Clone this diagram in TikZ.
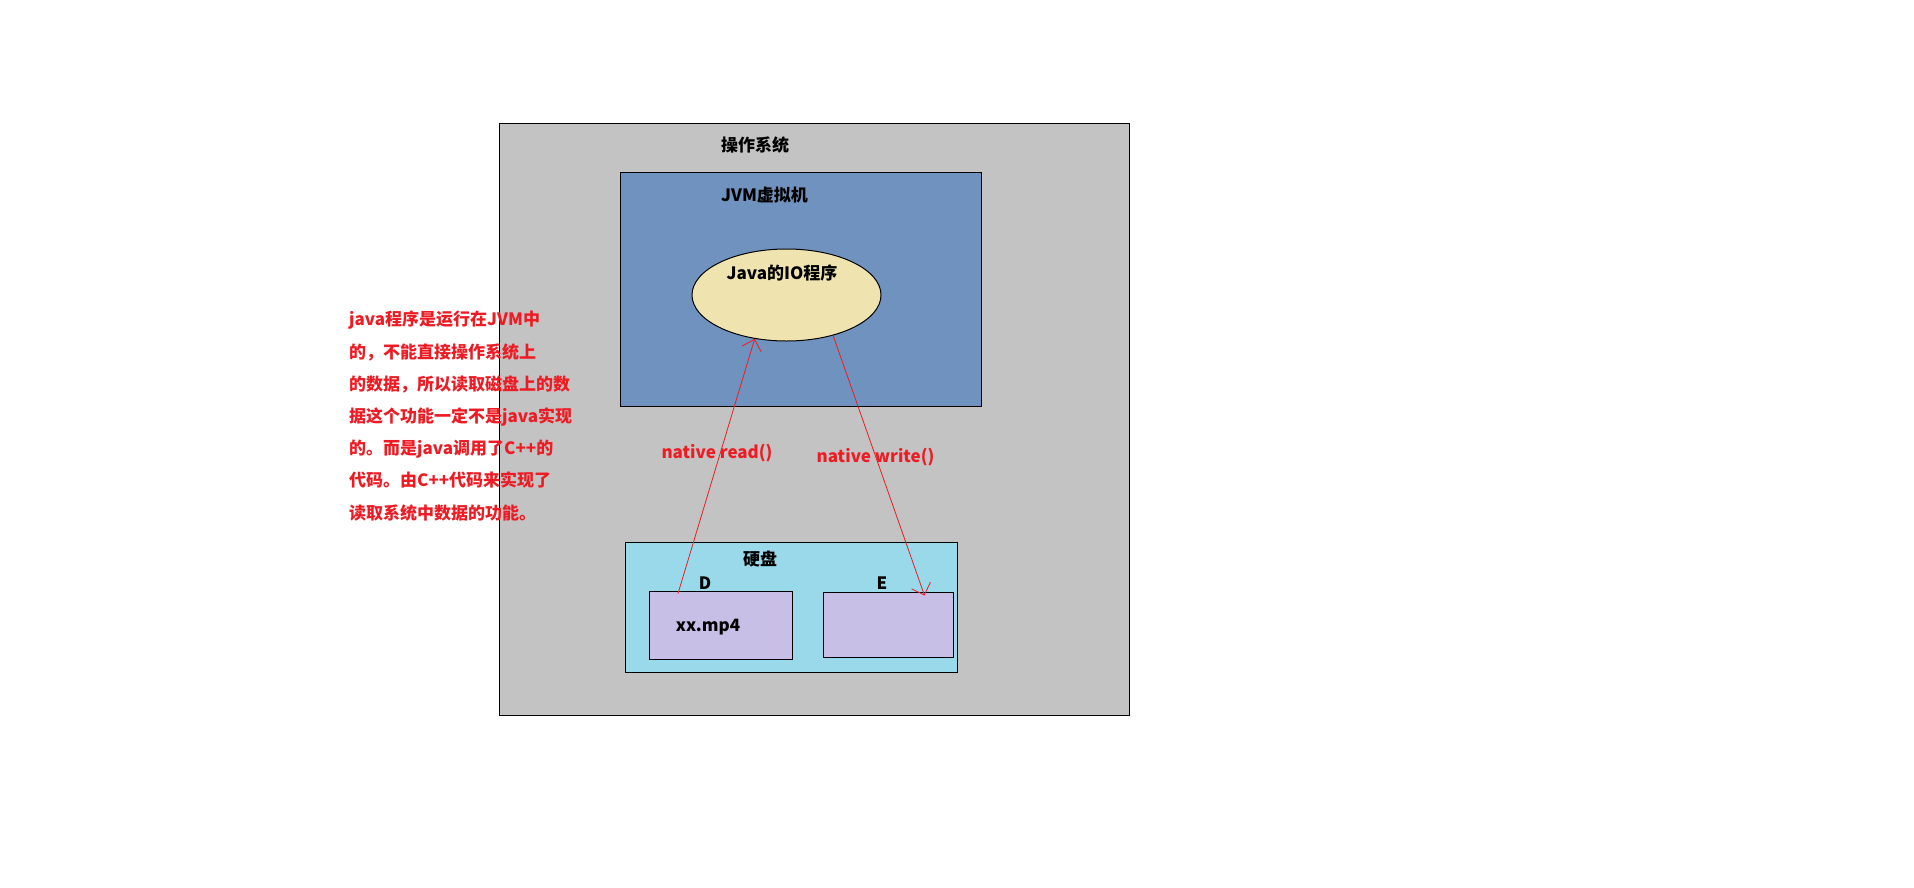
\documentclass[tikz,border=0pt]{standalone}
\usepackage{fontspec}
\setmainfont{Noto Sans CJK SC}
\usetikzlibrary{arrows.meta, shapes.geometric}
\definecolor{osgray}{RGB}{195,195,195}
\definecolor{jvmblue}{RGB}{112,146,190}
\definecolor{ioyellow}{RGB}{239,228,176}
\definecolor{diskblue}{RGB}{153,217,234}
\definecolor{drivepurple}{RGB}{200,191,231}
\definecolor{notered}{RGB}{237,28,36}
\tikzset{
x=1pt, y=-1pt, % one unit = one pixel of the picture, y downwards
every node/.style={font=\bfseries\fontsize{17}{20}\selectfont}, % bold text everywhere
}

\begin{document}
\begin{tikzpicture}[box/.style = {draw, line width=1pt, inner sep=0pt}, title/.style = {text=black}, note/.style = {text=notered}, arr/.style = {draw=notered, line width=0.8pt, -{Straight Barb[length=10pt,width=20pt]}}]
    \useasboundingbox (0,0) rectangle (1914,887);
    \node[box, fill=osgray, minimum width=630pt, minimum height=592pt] (os) at (814,419) {};
    \node[title] (ostitle) at (755,145) {操作系统};
    \node[box, fill=jvmblue, minimum width=361pt, minimum height=234pt] (jvm) at (800.5,289) {};
    \node[title] (jvmtitle) at (764.5,195) {JVM虚拟机};
    \node[box, ellipse, fill=ioyellow, minimum width=189pt, minimum height=92pt] (io) at (786.5,295) {};
    \node[title] (iotitle) at (782,273) {Java的IO程序};
    \node[box, fill=diskblue, minimum width=332pt, minimum height=130pt] (disk) at (791,607) {};
    \node[title] (disktitle) at (760,559) {硬盘};
    \node[box, fill=drivepurple, minimum width=143pt, minimum height=68pt] (d) at (720.5,625) {};
    \node[title] (dlabel) at (705,583) {D};
    \node[title] (file) at (708,627) {xx.mp4};
    \node[box, fill=drivepurple, minimum width=130pt, minimum height=65pt] (e) at (888,624.5) {};
    \node[title] (elabel) at (882,583) {E};
    % red arrows between the program and the disk
    \draw[arr] ([xshift=-42.5pt, yshift=-3pt]d.north) -- (io.234);
    \draw[arr] (io.319) -- ([xshift=-29pt, yshift=-4pt]e.north east);
    \node[note] (read) at (717,453) {native read()};
    \node[note] (write) at (875.5,457) {native write()};
    % explanation on the left
    \node[note, anchor=north west, inner sep=0pt, align=left, font=\bfseries\fontsize{17}{32.2}\selectfont] (explain) at (349,311) {java程序是运行在JVM中\\的，不能直接操作系统上\\的数据，所以读取磁盘上的数\\据这个功能一定不是java实现\\的。而是java调用了C++的\\代码。由C++代码来实现了\\读取系统中数据的功能。};
\end{tikzpicture}
\end{document}
